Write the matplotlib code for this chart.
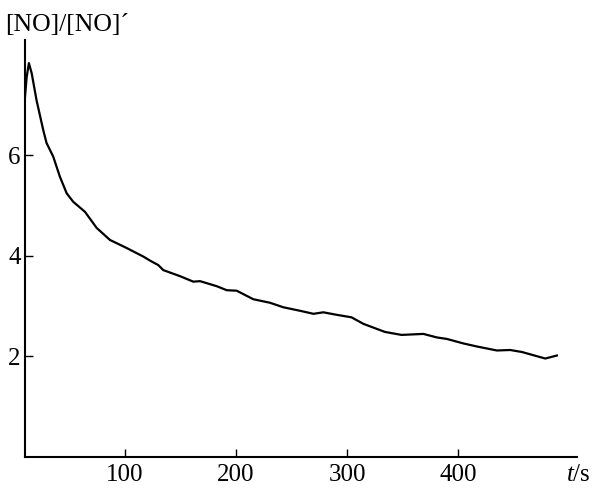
import matplotlib
matplotlib.use('Agg')
import matplotlib.pyplot as plt

# NO decay curve
t_s = [10.0, 11.5, 13.5, 16.0, 20.4, 26.4, 29.4, 35.4, 41.4, 47.5, 53.4, 64.0,
       74.5, 86.5, 101.5, 116.5, 122.5, 130.0, 134.5, 149.5, 161.5, 167.6, 182.6,
       191.6, 200.6, 215.6, 230.6, 242.6, 257.7, 269.7, 278.6, 290.7, 304.0,
       314.7, 334.0, 349.0, 368.7, 380.8, 389.8, 404.8, 416.8, 434.9, 446.8,
       457.4, 478.4, 488.9]
no_ratio = [7.16, 7.55, 7.83, 7.63, 7.09, 6.50, 6.24, 5.97, 5.57, 5.24, 5.07, 4.87,
            4.55, 4.31, 4.15, 3.98, 3.90, 3.81, 3.71, 3.59, 3.48, 3.49, 3.39,
            3.31, 3.30, 3.13, 3.06, 2.97, 2.90, 2.84, 2.87, 2.82, 2.77,
            2.64, 2.48, 2.42, 2.44, 2.37, 2.34, 2.25, 2.19, 2.11, 2.12,
            2.08, 1.95, 2.01]

x_ticks = [100, 200, 300, 400]
y_ticks = [2, 4, 6]

plt.rcParams['font.family'] = ['Liberation Serif', 'DejaVu Serif']
plt.rcParams['mathtext.fontset'] = 'custom'
plt.rcParams['mathtext.rm'] = 'Liberation Serif'
plt.rcParams['mathtext.it'] = 'Liberation Serif:italic'

fig = plt.figure(figsize=(5.95, 4.88), dpi=100)
ax = fig.add_axes([25 / 595, 1 - 456.5 / 488, 552 / 595, 416.5 / 488])

ax.plot(t_s, no_ratio, color='black', linewidth=1.6)

ax.set_xlim(10, 507)
ax.set_ylim(0, 8.29)
ax.set_xticks(x_ticks)
ax.set_yticks(y_ticks)

for side in ('top', 'right'):
    ax.spines[side].set_visible(False)
for side in ('left', 'bottom'):
    ax.spines[side].set_linewidth(1.5)

ax.tick_params(axis='both', direction='in', length=5.5, width=1.0, labelsize=18)
ax.tick_params(axis='x', pad=5.5)
ax.tick_params(axis='y', pad=3)

fig.text(5 / 595, 1 - 31 / 488, '[NO]/[NO]´', fontsize=18.5, va='baseline', ha='left')
fig.text(566 / 595, 1 - 481 / 488, '$t$/s', fontsize=18, va='baseline', ha='left')

fig.savefig('out.png', dpi=100)
